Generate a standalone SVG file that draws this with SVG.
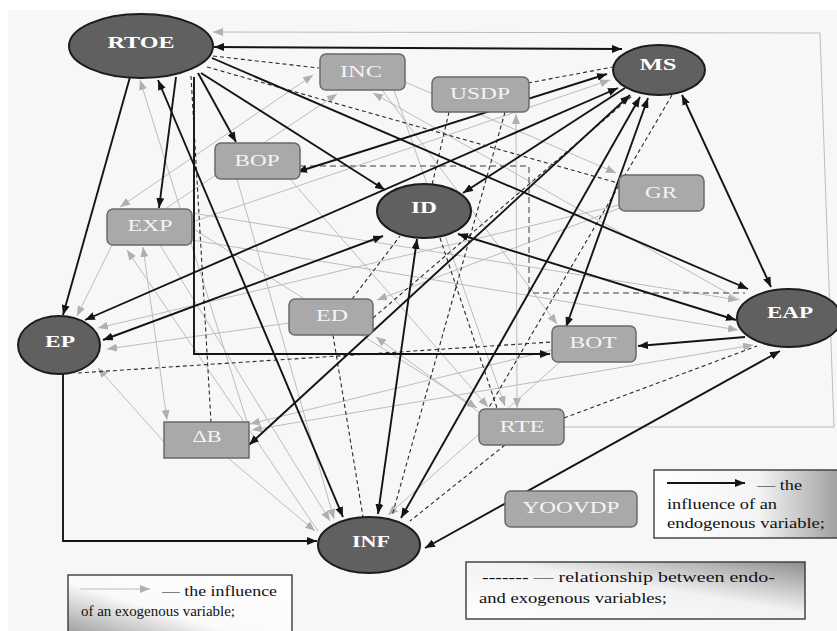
<svg xmlns="http://www.w3.org/2000/svg" width="837" height="631" viewBox="0 0 837 631">
<defs>
<style>
.bl{stroke:#141414;stroke-width:1.9;fill:none}
.gr{stroke:#bcbcbc;stroke-width:1;fill:none}
.ds{stroke:#2a2a2a;stroke-width:1.1;stroke-dasharray:4 3;fill:none}
.dg{stroke:#7a7a7a;stroke-width:1.5;stroke-dasharray:6 4;fill:none}
.el{fill:#606060;stroke:#1c1c1c;stroke-width:2}
.rc{fill:#a9a9a9;stroke:#6a6a6a;stroke-width:1.5}
.et{font-family:"Liberation Serif","Times New Roman",serif;font-weight:bold;font-size:17px;fill:#fff;text-anchor:middle}
.rt{font-family:"Liberation Serif","Times New Roman",serif;font-size:17px;fill:#f4f4f4;text-anchor:middle}
.lg{font-family:"Liberation Serif","Times New Roman",serif;font-size:15.5px;fill:#111}
.lb{stroke:#3a3a3a;stroke-width:1.4}
</style>
<marker id="ab" viewBox="0 0 10 8" refX="10" refY="4" markerWidth="10" markerHeight="8" markerUnits="userSpaceOnUse" orient="auto-start-reverse"><path d="M0,0 L10,4 L0,8 z" fill="#141414"/></marker>
<marker id="ag" viewBox="0 0 10 8" refX="10" refY="4" markerWidth="10" markerHeight="8" markerUnits="userSpaceOnUse" orient="auto-start-reverse"><path d="M0,0 L10,4 L0,8 z" fill="#b0b0b0"/></marker>
<linearGradient id="g1" x1="0" y1="1" x2="1" y2="0"><stop offset="0" stop-color="#8a8a8a"/><stop offset="0.45" stop-color="#fafafa"/><stop offset="1" stop-color="#ffffff"/></linearGradient>
<linearGradient id="g2" x1="0" y1="0" x2="1" y2="0"><stop offset="0" stop-color="#ffffff"/><stop offset="0.55" stop-color="#f4f4f4"/><stop offset="1" stop-color="#9a9a9a"/></linearGradient>
<linearGradient id="g3" x1="0" y1="1" x2="1" y2="0"><stop offset="0" stop-color="#ffffff"/><stop offset="0.55" stop-color="#f2f2f2"/><stop offset="1" stop-color="#8e8e8e"/></linearGradient>
</defs>
<rect x="0" y="0" width="837" height="631" fill="#ffffff"/>
<rect x="8" y="10" width="829" height="621" fill="#f7f7f7"/>

<g id="connectors">
<!-- exogenous (gray) -->
<path class="gr" d="M564,427 L834,427 L820,33 L213,32" marker-end="url(#ag)"/>
<path class="gr" d="M120,207 L313,75" marker-start="url(#ag)" marker-end="url(#ag)"/>
<path class="gr" d="M165,209 L337,94" marker-end="url(#ag)"/>
<path class="gr" d="M740,300 L373,93" marker-end="url(#ag)"/>
<path class="gr" d="M517,408 L516,114" marker-start="url(#ag)" marker-end="url(#ag)"/>
<path class="gr" d="M143,247 L167,420" marker-start="url(#ag)" marker-end="url(#ag)"/>
<path class="gr" d="M318,531 L127,250" marker-end="url(#ag)"/>
<path class="gr" d="M112,245 L77,316" marker-end="url(#ag)"/>
<path class="gr" d="M619,205 L98,328" marker-end="url(#ag)"/>
<path class="gr" d="M289,323 L107,349" marker-end="url(#ag)"/>
<path class="gr" d="M164,442 L98,368" marker-end="url(#ag)"/>
<path class="gr" d="M552,350 L250,424" marker-end="url(#ag)"/>
<path class="gr" d="M753,345 L252,430" marker-start="url(#ag)" marker-end="url(#ag)"/>
<path class="gr" d="M228,458 L315,531" marker-end="url(#ag)"/>
<path class="gr" d="M160,245 L330,521" marker-end="url(#ag)"/>
<path class="gr" d="M237,179 L334,519" marker-end="url(#ag)"/>
<path class="gr" d="M560,362 L388,515" marker-end="url(#ag)"/>
<path class="gr" d="M620,208 L377,300" marker-end="url(#ag)"/>
<path class="gr" d="M480,413 L376,337" marker-end="url(#ag)"/>
<path class="gr" d="M382,90 L557,324" marker-end="url(#ag)"/>
<path class="gr" d="M192,228 L477,408" marker-end="url(#ag)"/>
<path class="gr" d="M290,179 L488,407" marker-end="url(#ag)"/>
<path class="gr" d="M394,90 L505,406" marker-end="url(#ag)"/>
<path class="gr" d="M192,213 L738,300" marker-end="url(#ag)"/>
<path class="gr" d="M192,240 L738,330" marker-end="url(#ag)"/>
<path class="gr" d="M192,222 L610,80" marker-end="url(#ag)"/>
<path class="gr" d="M405,82 L616,173" marker-end="url(#ag)"/>
<path class="gr" d="M247,422 L140,80" marker-end="url(#ag)"/>

<!-- endo-exo relationships (dashed) -->
<path class="ds" d="M213,56 L319,68"/>
<path class="ds" d="M207,67 L618,183"/>
<path class="ds" d="M191,76 L211,422"/>
<path class="ds" d="M78,373 L552,342"/>
<path class="dg" d="M300,166 L529,166 L529,293 L745,293"/>
<path class="ds" d="M528,83 L613,67"/>
<path class="ds" d="M352,299 L400,236"/>
<path class="ds" d="M333,335 L363,517"/>
<path class="ds" d="M505,112 L392,516"/>
<path class="ds" d="M449,112 L432,185"/>
<path class="ds" d="M440,238 L497,408"/>
<path class="ds" d="M672,95 L488,409"/>
<path class="ds" d="M505,445 L410,521"/>
<path class="ds" d="M564,418 L757,346"/>
<path class="ds" d="M373,318 L632,96"/>

<!-- endogenous (black) -->
<path class="bl" d="M214,47 L622,49" marker-start="url(#ab)" marker-end="url(#ab)"/>
<path class="bl" d="M130,77 L63,315" marker-end="url(#ab)"/>
<path class="bl" d="M176,77 L159,208" marker-end="url(#ab)"/>
<path class="bl" d="M158,80 L343,517" marker-start="url(#ab)" marker-end="url(#ab)"/>
<path class="bl" d="M198,73 L236,142" marker-end="url(#ab)"/>
<path class="bl" d="M201,73 L385,190" marker-end="url(#ab)"/>
<path class="bl" d="M212,58 L748,289" marker-end="url(#ab)"/>
<path class="bl" d="M194,77 L194,354 L550,354" marker-end="url(#ab)"/>
<path class="bl" d="M607,74 L297,172" marker-start="url(#ab)" marker-end="url(#ab)"/>
<path class="bl" d="M618,88 L85,320" marker-start="url(#ab)" marker-end="url(#ab)"/>
<path class="bl" d="M625,88 L463,193" marker-end="url(#ab)"/>
<path class="bl" d="M630,95 L249,445" marker-start="url(#ab)" marker-end="url(#ab)"/>
<path class="bl" d="M640,97 L401,518" marker-start="url(#ab)" marker-end="url(#ab)"/>
<path class="bl" d="M648,98 L566,327" marker-start="url(#ab)" marker-end="url(#ab)"/>
<path class="bl" d="M682,95 L771,287" marker-start="url(#ab)" marker-end="url(#ab)"/>
<path class="bl" d="M383,236 L103,340" marker-start="url(#ab)" marker-end="url(#ab)"/>
<path class="bl" d="M417,239 L378,514" marker-start="url(#ab)" marker-end="url(#ab)"/>
<path class="bl" d="M458,234 L736,320" marker-start="url(#ab)" marker-end="url(#ab)"/>
<path class="bl" d="M745,337 L638,346" marker-end="url(#ab)"/>
<path class="bl" d="M780,351 L425,548" marker-start="url(#ab)" marker-end="url(#ab)"/>
<path class="bl" d="M63,374 L63,541 L317,541" marker-end="url(#ab)"/>
</g>

<g id="node-RTOE"><ellipse class="el" cx="141" cy="46" rx="72" ry="32"/><text class="et" x="141" y="48" textLength="67" lengthAdjust="spacingAndGlyphs">RTOE</text></g>
<g id="node-MS"><ellipse class="el" cx="659" cy="70" rx="46" ry="25"/><text class="et" x="658" y="70" textLength="37" lengthAdjust="spacingAndGlyphs">MS</text></g>
<g id="node-ID"><ellipse class="el" cx="424" cy="211" rx="47" ry="27"/><text class="et" x="424" y="213" textLength="26" lengthAdjust="spacingAndGlyphs">ID</text></g>
<g id="node-EP"><ellipse class="el" cx="59" cy="345" rx="41" ry="29"/><text class="et" x="60" y="347" textLength="30" lengthAdjust="spacingAndGlyphs">EP</text></g>
<g id="node-EAP"><ellipse class="el" cx="789" cy="318" rx="52" ry="29"/><text class="et" x="790" y="318" textLength="46" lengthAdjust="spacingAndGlyphs">EAP</text></g>
<g id="node-INF"><ellipse class="el" cx="369" cy="545" rx="51" ry="28"/><text class="et" x="371" y="547" textLength="38" lengthAdjust="spacingAndGlyphs">INF</text></g>

<g id="node-INC"><rect class="rc" x="320" y="54" width="85" height="36" rx="6"/><text class="rt" x="361" y="77" textLength="42" lengthAdjust="spacingAndGlyphs">INC</text></g>
<g id="node-USDP"><rect class="rc" x="432" y="77" width="97" height="35" rx="6"/><text class="rt" x="480" y="99" textLength="60" lengthAdjust="spacingAndGlyphs">USDP</text></g>
<g id="node-BOP"><rect class="rc" x="215" y="143" width="85" height="36" rx="6"/><text class="rt" x="257" y="166" textLength="45" lengthAdjust="spacingAndGlyphs">BOP</text></g>
<g id="node-GR"><rect class="rc" x="619" y="175" width="85" height="36" rx="6"/><text class="rt" x="661" y="198" textLength="32" lengthAdjust="spacingAndGlyphs">GR</text></g>
<g id="node-EXP"><rect class="rc" x="107" y="209" width="85" height="36" rx="6"/><text class="rt" x="150" y="231" textLength="45" lengthAdjust="spacingAndGlyphs">EXP</text></g>
<g id="node-ED"><rect class="rc" x="289" y="299" width="84" height="36" rx="6"/><text class="rt" x="332" y="321" textLength="32" lengthAdjust="spacingAndGlyphs">ED</text></g>
<g id="node-BOT"><rect class="rc" x="552" y="326" width="84" height="36" rx="6"/><text class="rt" x="593" y="348" textLength="47" lengthAdjust="spacingAndGlyphs">BOT</text></g>
<g id="node-RTE"><rect class="rc" x="479" y="409" width="85" height="36" rx="6"/><text class="rt" x="522" y="432" textLength="45" lengthAdjust="spacingAndGlyphs">RTE</text></g>
<g id="node-dB"><rect class="rc" x="164" y="422" width="85" height="36"/><text class="rt" x="207" y="442" textLength="29" lengthAdjust="spacingAndGlyphs">ΔB</text></g>
<g id="node-YOOVDP"><rect class="rc" x="505" y="491" width="132" height="36" rx="6"/><text class="rt" x="571" y="513" textLength="97" lengthAdjust="spacingAndGlyphs">YOOVDP</text></g>

<g id="legend-exo">
<rect class="lb" x="68" y="575" width="224" height="70" fill="url(#g1)"/>
<line class="gr" x1="80" y1="589" x2="150" y2="589" marker-end="url(#ag)"/>
<text class="lg" x="162" y="596" textLength="115" lengthAdjust="spacingAndGlyphs">— the influence</text>
<text class="lg" x="81" y="616" textLength="154" lengthAdjust="spacingAndGlyphs">of an exogenous variable;</text>
</g>
<g id="legend-endo">
<rect class="lb" x="654" y="470" width="190" height="68" fill="url(#g2)"/>
<line class="bl" x1="667" y1="483" x2="745" y2="483" marker-end="url(#ab)"/>
<text class="lg" x="757" y="490" textLength="45" lengthAdjust="spacingAndGlyphs">—  the</text>
<text class="lg" x="667" y="509" textLength="110" lengthAdjust="spacingAndGlyphs">influence of an</text>
<text class="lg" x="667" y="528" textLength="158" lengthAdjust="spacingAndGlyphs">endogenous variable;</text>
</g>
<g id="legend-rel">
<rect class="lb" x="466" y="562" width="339" height="57" fill="url(#g3)"/>
<text class="lg" x="482" y="582" textLength="293" lengthAdjust="spacingAndGlyphs">-------  —  relationship between endo-</text>
<text class="lg" x="479" y="603" textLength="188" lengthAdjust="spacingAndGlyphs">and exogenous variables;</text>
</g>
</svg>
